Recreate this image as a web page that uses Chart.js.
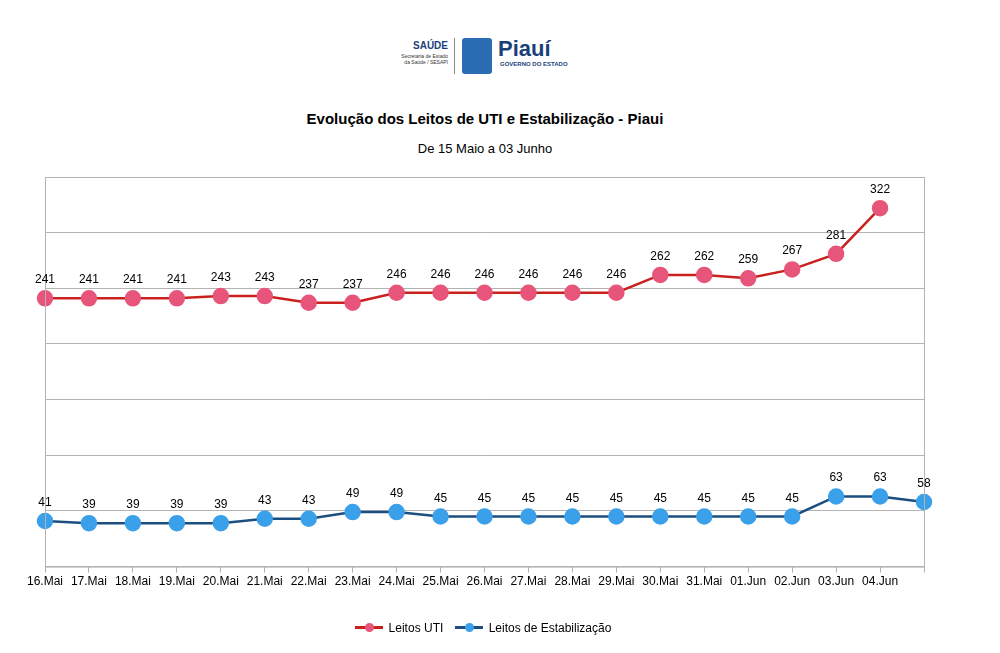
<!DOCTYPE html>
<html>
<head>
<meta charset="utf-8">
<script src="https://cdn.jsdelivr.net/npm/chart.js@4"></script>
<style>
  body { margin: 0; background: #fff; font-family: "Liberation Sans", Arial, sans-serif; }
  #wrap { position: relative; width: 1000px; height: 653px; }
  canvas { position: absolute; left: 0; top: 0; }
  .t { position: absolute; left: 0; width: 970px; text-align: center; color: #000; }
  #logo { position: absolute; top: 38px; left: 390px; width: 190px; height: 40px; }
  #legend { position: absolute; top: 618px; left: 0; width: 966px; text-align: center; font-size: 12px; }
  .lg { display: inline-flex; align-items: center; margin: 0 4px; }
  .sw { position: relative; width: 28px; height: 3px; margin-right: 6px; }
  .sw i { position: absolute; left: 10px; top: -3px; width: 9px; height: 9px; border-radius: 50%; }
</style>
</head>
<body>
<div id="wrap">
  <div id="logo">
    <div style="position:absolute;left:0;top:2px;width:58px;text-align:right;font-size:10px;font-weight:bold;color:#1c3f7a">SAÚDE</div>
    <div style="position:absolute;left:0;top:15px;width:58px;text-align:right;font-size:5px;line-height:6px;color:#333">Secretaria de Estado<br>da Saúde / SESAPI</div>
    <div style="position:absolute;left:64px;top:0;width:1px;height:36px;background:#888"></div>
    <div style="position:absolute;left:72px;top:0;width:30px;height:36px;background:#2a6db5;border-radius:3px"></div>
    <div style="position:absolute;left:108px;top:-2px;font-size:22px;font-weight:bold;color:#1c3f7a">Piauí</div>
    <div style="position:absolute;left:110px;top:23px;font-size:6px;font-weight:bold;color:#1c3f7a">GOVERNO DO ESTADO</div>
  </div>
  <div class="t" style="top:110px;font-size:15px;font-weight:bold">Evolução dos Leitos de UTI e Estabilização - Piaui</div>
  <div class="t" style="top:141px;font-size:13px">De 15 Maio a 03 Junho</div>
  <canvas id="c" width="1000" height="653"></canvas>
  <div id="legend">
    <span class="lg"><span class="sw" style="background:#c9211e"><i style="background:#e8557a"></i></span>Leitos UTI</span>
    <span class="lg"><span class="sw" style="background:#1c4e80"><i style="background:#3aa0ea"></i></span>Leitos de Estabilização</span>
  </div>
</div>
<script>
const labels = ['16.Mai','17.Mai','18.Mai','19.Mai','20.Mai','21.Mai','22.Mai','23.Mai','24.Mai','25.Mai','26.Mai','27.Mai','28.Mai','29.Mai','30.Mai','31.Mai','01.Jun','02.Jun','03.Jun','04.Jun',''];
const leitosUTI = [241,241,241,241,243,243,237,237,246,246,246,246,246,246,262,262,259,267,281,322,null];
const leitosEstab = [41,39,39,39,39,43,43,49,49,45,45,45,45,45,45,45,45,45,63,63,58];

const extras = {
    id: 'extras',
    afterDatasetsDraw(chart) {
        const ctx = chart.ctx;
        const a = chart.chartArea;
        ctx.save();
        ctx.strokeStyle = '#b3b3b3';
        ctx.lineWidth = 1;
        ctx.strokeRect(a.left + 0.5, a.top + 0.5, a.right - a.left, a.bottom - a.top);
        ctx.font = '12px "Liberation Sans", Arial, sans-serif';
        ctx.fillStyle = '#000';
        ctx.textAlign = 'center';
        chart.data.datasets.forEach((ds, i) => {
            chart.getDatasetMeta(i).data.forEach((p, j) => {
                if (ds.data[j] == null) return;
                ctx.fillText(ds.data[j], p.x, p.y - 15);
            });
        });
        ctx.restore();
    }
};

new Chart(document.getElementById('c'), {
    type: 'line',
    data: {
        labels,
        datasets: [
            { label: 'Leitos UTI', data: leitosUTI, borderColor: '#c9211e', backgroundColor: '#e8557a', pointBackgroundColor: '#e8557a', pointBorderColor: '#e8557a', pointRadius: 7, borderWidth: 2.5, tension: 0 },
            { label: 'Leitos de Estabilização', data: leitosEstab, borderColor: '#1c4e80', backgroundColor: '#3aa0ea', pointBackgroundColor: '#3aa0ea', pointBorderColor: '#3aa0ea', pointRadius: 7, borderWidth: 2.5, tension: 0 }
        ]
    },
    options: {
        responsive: false, animation: false,
        layout: { padding: { left: 45, right: 76, top: 177, bottom: 62 } },
        plugins: { legend: { display: false }, tooltip: { enabled: false } },
        scales: {
            x: {
                offset: false,
                grid: { drawOnChartArea: false, color: '#b3b3b3', tickLength: 6 },
                border: { color: '#b3b3b3' },
                ticks: { color: '#000', font: { size: 12, family: '"Liberation Sans", Arial, sans-serif' }, maxRotation: 0, autoSkip: false, padding: 2 }
            },
            y: {
                min: 0, max: 350,
                ticks: { display: false, stepSize: 50 },
                grid: { color: '#b3b3b3', drawTicks: false },
                border: { display: false }
            }
        }
    },
    plugins: [extras]
});
</script>
</body>
</html>
